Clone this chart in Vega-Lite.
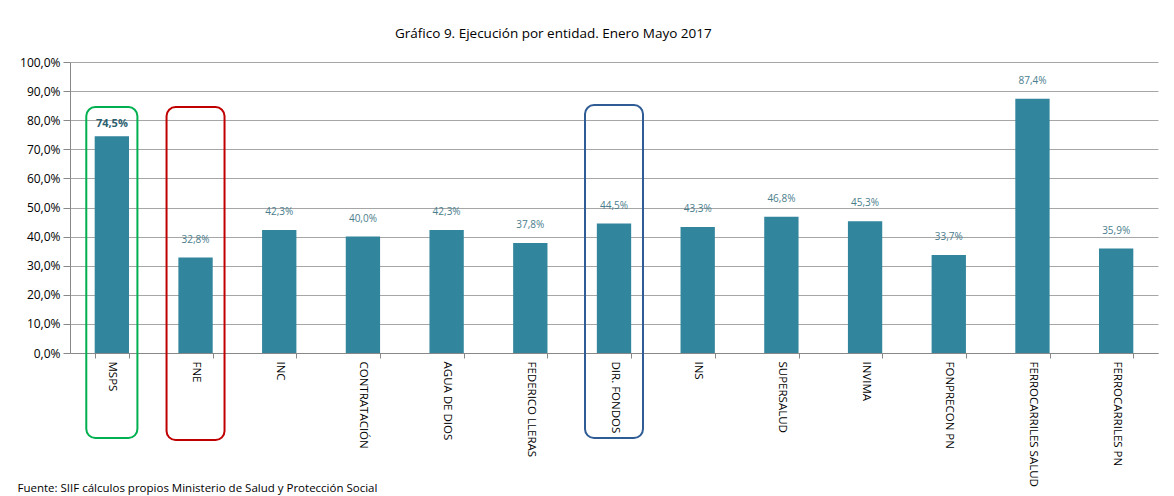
{
  "$schema": "https://vega.github.io/schema/vega-lite/v6.json",
  "autosize": "none",
  "width": 1088,
  "height": 291,
  "padding": {"left": 70, "top": 62, "right": 16, "bottom": 143},
  "background": "white",
  "config": {
    "locale": {"number": {"decimal": ",", "thousands": ".", "grouping": [3], "currency": ["$", ""]}},
    "view": {"stroke": null},
    "font": "Open Sans"
  },
  "title": {
    "text": "Gráfico 9. Ejecución  por entidad.  Enero Mayo 2017",
    "anchor": "start",
    "dx": 378,
    "offset": 16,
    "fontSize": 13.5,
    "fontWeight": "normal",
    "color": "#000000",
    "font": "Open Sans"
  },
  "datasets": {
    "bars": [
      {"entidad": "MSPS", "ejecucion": 0.745},
      {"entidad": "FNE", "ejecucion": 0.328},
      {"entidad": "INC", "ejecucion": 0.423},
      {"entidad": "CONTRATACIÓN", "ejecucion": 0.400},
      {"entidad": "AGUA DE DIOS", "ejecucion": 0.423},
      {"entidad": "FEDERICO LLERAS", "ejecucion": 0.378},
      {"entidad": "DIR. FONDOS", "ejecucion": 0.445},
      {"entidad": "INS", "ejecucion": 0.433},
      {"entidad": "SUPERSALUD", "ejecucion": 0.468},
      {"entidad": "INVIMA", "ejecucion": 0.453},
      {"entidad": "FONPRECON PN", "ejecucion": 0.337},
      {"entidad": "FERROCARRILES SALUD", "ejecucion": 0.874},
      {"entidad": "FERROCARRILES PN", "ejecucion": 0.359}
    ],
    "boxes": [
      {"entidad": "MSPS", "top": 0.845, "bottom": -0.292},
      {"entidad": "FNE", "top": 0.845, "bottom": -0.299},
      {"entidad": "DIR. FONDOS", "top": 0.852, "bottom": -0.292}
    ]
  },
  "encoding": {
    "x": {
      "field": "entidad",
      "type": "nominal",
      "sort": null,
      "scale": {
        "domain": ["MSPS", "FNE", "INC", "CONTRATACIÓN", "AGUA DE DIOS", "FEDERICO LLERAS", "DIR. FONDOS", "INS", "SUPERSALUD", "INVIMA", "FONPRECON PN", "FERROCARRILES SALUD", "FERROCARRILES PN"],
        "paddingInner": 0.59,
        "paddingOuter": 0.295
      },
      "axis": {
        "title": "Fuente:  SIIF cálculos propios Ministerio de Salud y Protección Social",
        "titleAnchor": "start",
        "titleAlign": "left",
        "titleX": -53,
        "titleY": 138,
        "titleBaseline": "alphabetic",
        "titleFontSize": 11.5,
        "titleFontWeight": "normal",
        "titleColor": "#000000",
        "titleFont": "Open Sans",
        "labelAngle": 90,
        "labelAlign": "left",
        "labelBaseline": "middle",
        "labelFontSize": 11.5,
        "labelColor": "#000000",
        "labelPadding": 3,
        "labelOverlap": false,
        "tickBand": "extent",
        "tickSize": 5,
        "tickColor": "#888888",
        "domainColor": "#888888",
        "grid": false
      }
    },
    "y": {
      "field": "ejecucion",
      "type": "quantitative",
      "scale": {"domain": [0, 1]},
      "axis": {
        "title": null,
        "format": ".1%",
        "values": [0, 0.1, 0.2, 0.3, 0.4, 0.5, 0.6, 0.7, 0.8, 0.9, 1],
        "labelOverlap": false,
        "labelFontSize": 12,
        "labelColor": "#000000",
        "labelPadding": 3,
        "tickSize": 7,
        "tickColor": "#888888",
        "domainColor": "#888888",
        "gridColor": "#a6a6a6",
        "gridWidth": 1
      }
    }
  },
  "layer": [
    {
      "data": {"name": "bars"},
      "mark": {"type": "bar", "color": "#31859C"}
    },
    {
      "data": {"name": "bars"},
      "transform": [{"filter": "datum.entidad !== 'MSPS'"}],
      "mark": {"type": "text", "baseline": "bottom", "dy": -13, "fontSize": 10, "color": "#4A7D8C"},
      "encoding": {
        "text": {"field": "ejecucion", "type": "quantitative", "format": ".1%"}
      }
    },
    {
      "data": {"name": "bars"},
      "transform": [{"filter": "datum.entidad === 'MSPS'"}],
      "mark": {"type": "text", "baseline": "bottom", "dy": -7, "fontSize": 11, "fontWeight": "bold", "color": "#2D6070"},
      "encoding": {
        "text": {"field": "ejecucion", "type": "quantitative", "format": ".1%"}
      }
    },
    {
      "data": {"name": "boxes"},
      "transform": [{"filter": "datum.entidad === 'MSPS'"}],
      "mark": {"type": "bar", "fill": null, "fillOpacity": 0, "strokeWidth": 2, "cornerRadius": 9, "width": {"band": 1.49}, "clip": false},
      "encoding": {
        "y": {"field": "top", "type": "quantitative"},
        "y2": {"field": "bottom"},
        "stroke": {
          "field": "entidad",
          "type": "nominal",
          "scale": {"domain": ["MSPS", "FNE", "DIR. FONDOS"], "range": ["#00B050", "#C00000", "#2F5C94"]},
          "legend": null
        }
      }
    },
    {
      "data": {"name": "boxes"},
      "transform": [{"filter": "datum.entidad !== 'MSPS'"}],
      "mark": {"type": "bar", "fill": null, "fillOpacity": 0, "strokeWidth": 2, "cornerRadius": 9, "width": {"band": 1.69}, "clip": false},
      "encoding": {
        "y": {"field": "top", "type": "quantitative"},
        "y2": {"field": "bottom"},
        "stroke": {
          "field": "entidad",
          "type": "nominal",
          "legend": null
        }
      }
    }
  ]
}
